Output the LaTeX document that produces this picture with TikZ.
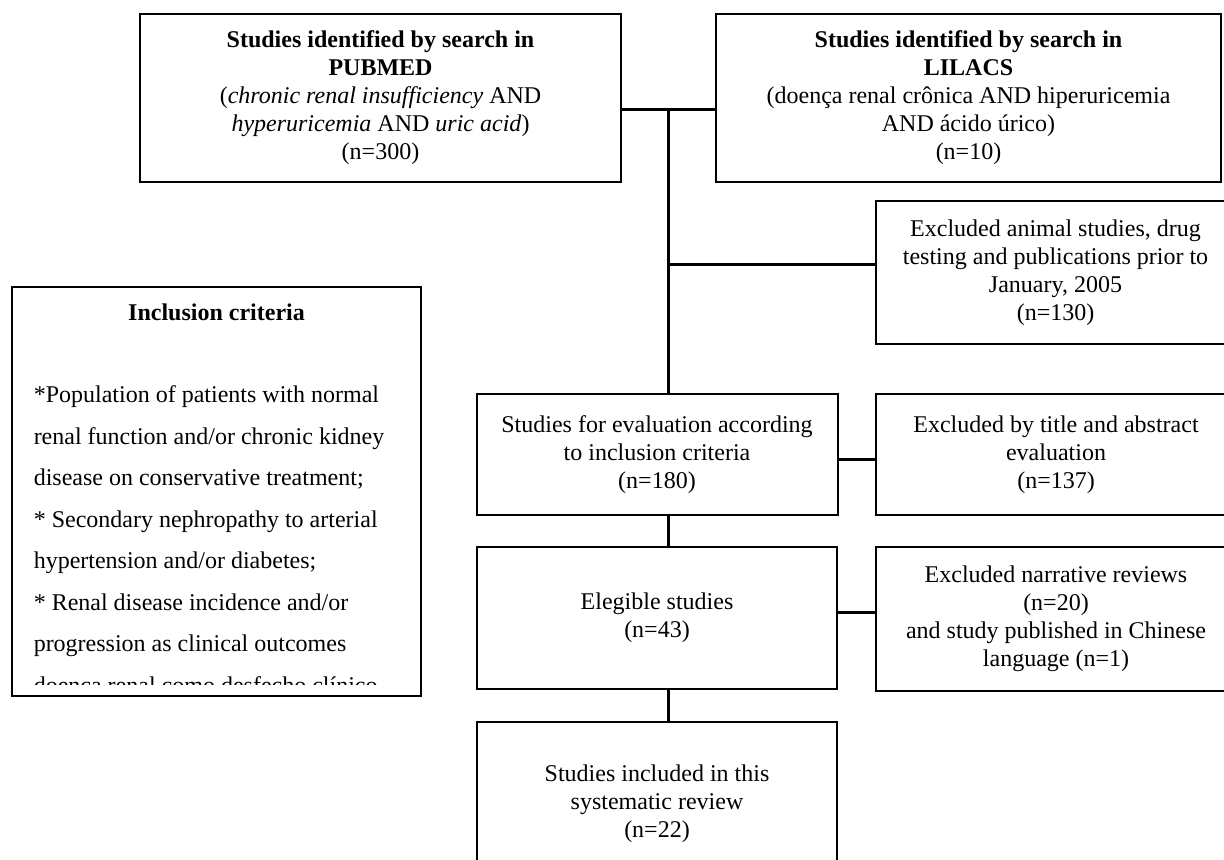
\documentclass[tikz,border=0pt]{standalone}
\usepackage{fontspec}
\setmainfont{Liberation Serif}

\tikzset{every picture/.style={line width=0.75pt}}
\tikzset{
  flowbox/.style={draw, line width=1pt, align=center, inner sep=0pt,
    font=\fontsize{12}{14}\selectfont},
  link/.style={line width=1.5pt}
}

\begin{document}
\begin{tikzpicture}[x=0.5pt,y=0.5pt,yscale=-1,xscale=1]

%set diagram area 1224 x 859
\useasboundingbox (0,0) rectangle (1224,859);

%Rectangle [id:pubmed] 
\node [flowbox, minimum width=240.5pt, minimum height=84pt] (pubmed) at (380.5,98) {\textbf{Studies identified by search in}\\\textbf{PUBMED}\\(\textit{chronic renal insufficiency} AND\\\textit{hyperuricemia} AND \textit{uric acid})\\(n=300)};
%Rectangle [id:lilacs] 
\node [flowbox, minimum width=252.5pt, minimum height=84pt] (lilacs) at (968.5,98) {\textbf{Studies identified by search in}\\\textbf{LILACS}\\(doença renal crônica AND hiperuricemia\\AND ácido úrico)\\(n=10)};
%Rectangle [id:animal] 
\node [flowbox, minimum width=179.5pt, minimum height=71.5pt] (animal) at (1055.5,272.5) {Excluded animal studies, drug\\testing and publications prior to\\January, 2005\\(n=130)};

%Rectangle [id:eval] 
\node [flowbox, minimum width=180.5pt, minimum height=60.5pt] (eval) at (657,454.5) {Studies for evaluation according\\to inclusion criteria\\(n=180)};
%Rectangle [id:title] 
\node [flowbox, minimum width=180pt, minimum height=60.5pt] (title) at (1056,454.5) {Excluded by title and abstract\\evaluation\\(n=137)};
%Rectangle [id:elig] 
\node [flowbox, minimum width=180pt, minimum height=71pt] (elig) at (657,618) {Elegible studies\\(n=43)};
%Rectangle [id:narr] 
\node [flowbox, minimum width=180pt, minimum height=72pt] (narr) at (1056,619) {Excluded narrative reviews\\(n=20)\\and study published in Chinese\\language (n=1)};
%Rectangle [id:final] 
\node [flowbox, minimum width=180pt, minimum height=82pt] (final) at (657,804) {Studies included in this\\systematic review\\(n=22)};

%Rectangle [id:incl] 
\node [draw, line width=1pt, minimum width=204.5pt, minimum height=204.5pt] (incl) at (216.5,491.5) {};
% Text Node
\node [font=\fontsize{12}{14}\selectfont\bfseries] (incltitle) at (216.5,312) {Inclusion criteria};
% Text Node (last line cut by the box)
\begin{scope}
\clip (incl.north west) rectangle (421,684);
\node [anchor=north west, inner sep=0pt, align=left, font=\fontsize{12}{20.75}\selectfont] (inclbody) at (33,385) {*Population of patients with normal\\renal function and/or chronic kidney\\disease on conservative treatment;\\* Secondary nephropathy to arterial\\hypertension and/or diabetes;\\* Renal disease incidence and/or\\progression as clinical outcomes\\doença renal como desfecho clínico};
\end{scope}

%Straight Lines 
\coordinate (spine) at (668,109);
\coordinate (fork) at (668,264);
\draw [link] (spine -| pubmed.east) -- (spine -| lilacs.west);
\draw [link] (spine) -- (spine |- eval.north);
\draw [link] (fork) -- (fork -| animal.west);
\draw [link] ([yshift=2.25pt]eval.east) -- ([yshift=2.25pt]eval.east -| title.west);
\draw [link] (spine |- eval.south) -- (spine |- elig.north);
\draw [link] ([yshift=-3pt]elig.east) -- ([yshift=-3pt]elig.east -| narr.west);
\draw [link] (spine |- elig.south) -- (spine |- final.north);

\end{tikzpicture}
\end{document}
